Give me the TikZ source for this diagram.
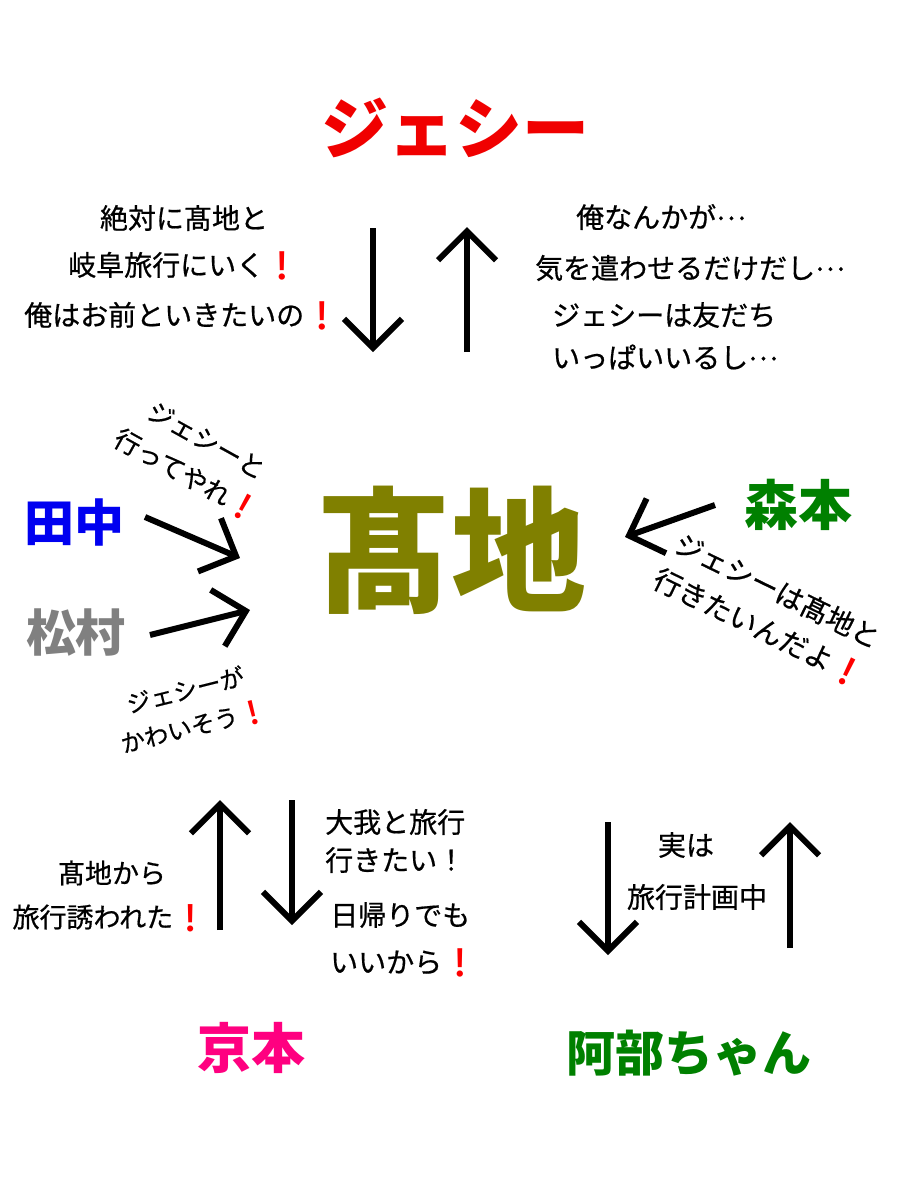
\documentclass[tikz,border=0pt]{standalone}
\usepackage{fontspec}
\setmainfont{Noto Sans CJK JP}
\newfontfamily\medf{Noto Sans CJK JP}[FakeBold=0.6]
\newfontfamily\emj{Noto Emoji}
\usetikzlibrary{arrows.meta}
\definecolor{olivec}{RGB}{128,128,0}
\definecolor{jred}{RGB}{240,0,0}
\definecolor{tblue}{RGB}{0,0,240}
\definecolor{mgray}{RGB}{128,128,128}
\definecolor{mgreen}{RGB}{0,128,0}
\definecolor{kpink}{RGB}{255,0,128}
\newcommand{\bang}{{\color{red}\emj ❗}}
\newcommand{\tdots}{\raisebox{0.28em}{…}}
\tikzset{
  nm/.style={inner sep=0pt, font=\bfseries\fontsize{#1}{#1}\selectfont},
  lbl/.style={inner sep=0pt, font=\medf\fontsize{#1}{#1}\selectfont},
  rlbl/.style args={#1/#2}{inner sep=0pt, align=center, font=\medf\fontsize{#1}{#2}\selectfont},
  arr/.style={line width=6pt, -{Straight Barb[length=29pt,width=58pt]}},
}
\begin{document}
\begin{tikzpicture}[x=1pt,y=-1pt]
\useasboundingbox[fill=white] (0,0) rectangle (900,1200);
% names
\node[nm=67, text=jred] (jesse) at (455,128) {ジェシー};
\node[nm=135, text=olivec] (takachi) at (451,550) {髙地};
\node[nm=50, text=tblue] (tanaka) at (74,522) {田中};
\node[nm=50, text=mgray] (matsu) at (76,633) {松村};
\node[nm=54, text=mgreen] (mori) at (798,505) {森本};
\node[nm=54, text=kpink] (kyo) at (251,1048) {京本};
\node[nm=49, text=mgreen] (abe) at (689,1053) {阿部ちゃん};
% top labels
\node[lbl=28] (t1) at (184,218) {絶対に髙地と};
\node[lbl=28] (t2) at (184,266) {岐阜旅行にいく\bang};
\node[lbl=28] (t3) at (182,316) {俺はお前といきたいの\bang};
\node[lbl=28] (u1) at (661,217) {俺なんかが\tdots};
\node[lbl=28] (u2) at (690,268) {気を遣わせるだけだし\tdots};
\node[lbl=28,anchor=west] (u3) at (552,315) {ジェシーは友だち};
\node[lbl=28,anchor=west] (u4) at (552,357) {いっぱいいるし\tdots};
% rotated labels
\node[rlbl=26/40, rotate=-29] (r1) at (196,459) {ジェシーと\\行ってやれ\bang};
\node[rlbl=24/37, rotate=14] (r2) at (190,709) {ジェシーが\\かわいそう\bang};
\node[rlbl=28/41, rotate=-26] (r3) at (768,610) {ジェシーは髙地と\\行きたいんだよ\bang};
% bottom labels
\node[lbl=27] (b1) at (112,873) {髙地から};
\node[lbl=27] (b2) at (110,918) {旅行誘われた\bang};
\node[lbl=28,anchor=west] (c1) at (325,822) {大我と旅行};
\node[lbl=28,anchor=west] (c2) at (325,860) {行きたい！};
\node[lbl=28,anchor=west] (c3) at (330,915) {日帰りでも};
\node[lbl=28,anchor=west] (c4) at (330,963) {いいから\bang};
\node[lbl=28] (d1) at (686,845) {実は};
\node[lbl=28] (d2) at (697,897) {旅行計画中};
% arrow endpoints
\coordinate (ja1) at (373,228); \coordinate (ja2) at (373,352);
\coordinate (jb1) at (467,352); \coordinate (jb2) at (467,227);
\coordinate (ta1) at (145,517); \coordinate (ta2) at (240,558);
\coordinate (ma1) at (150,635); \coordinate (ma2) at (250,610);
\coordinate (mo1) at (715,505); \coordinate (mo2) at (625,537);
\coordinate (ka1) at (220,930); \coordinate (ka2) at (220,800);
\coordinate (kb1) at (292,800); \coordinate (kb2) at (292,925);
\coordinate (aa1) at (608,822); \coordinate (aa2) at (608,955);
\coordinate (ab1) at (790,948); \coordinate (ab2) at (790,822);
\draw[arr] (ja1) -- (ja2);
\draw[arr] (jb1) -- (jb2);
\draw[arr] (ta1) -- (ta2);
\draw[arr] (ma1) -- (ma2);
\draw[arr] (mo1) -- (mo2);
\draw[arr] (ka1) -- (ka2);
\draw[arr] (kb1) -- (kb2);
\draw[arr] (aa1) -- (aa2);
\draw[arr] (ab1) -- (ab2);
\end{tikzpicture}
\end{document}
